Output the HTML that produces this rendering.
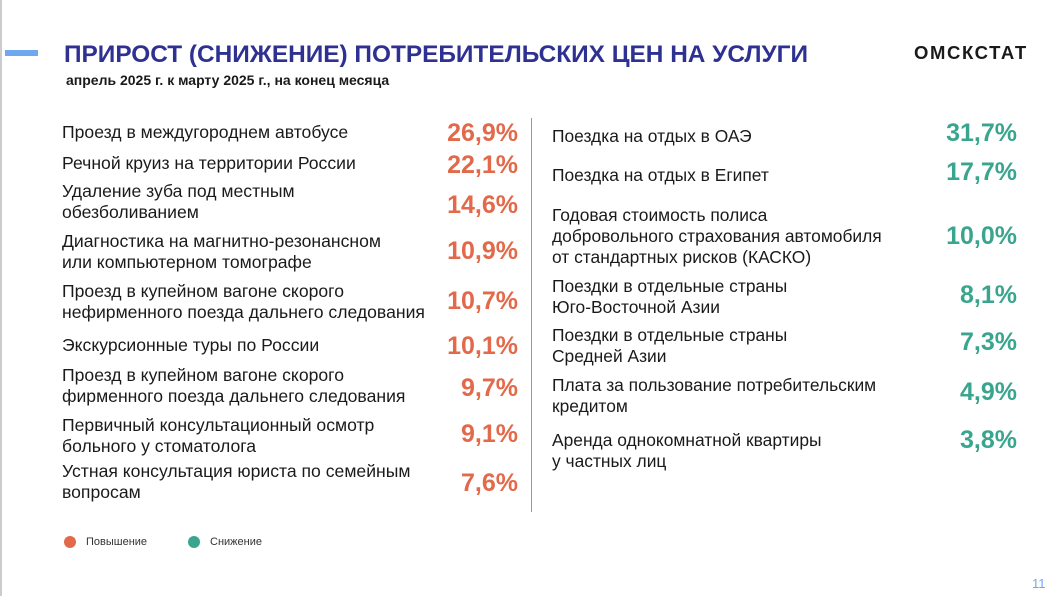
<!DOCTYPE html>
<html><head><meta charset="utf-8"><style>
body{margin:0;width:1060px;height:596px;background:#fff;position:relative;overflow:hidden;font-family:"Liberation Sans",sans-serif;}
.a{position:absolute;white-space:nowrap}
.l{font-size:17.6px;color:#1a1a1a;line-height:21px;left:62px}
.r{font-size:17.4px;color:#1a1a1a;line-height:21px;left:552px}
.v{font-size:25px;font-weight:bold;color:#e2694a;right:542px;line-height:30px}
.w{font-size:25px;font-weight:bold;color:#3aa58f;right:43px;line-height:30px}
</style></head><body>
<div class="a" style="left:0;top:0;width:2px;height:596px;background:#ccc"></div>
<div class="a" style="left:5px;top:50px;width:33px;height:6px;background:#6fa8ef"></div>
<div class="a" style="left:64px;top:41px;font-size:24.4px;font-weight:bold;color:#2e3192">ПРИРОСТ (СНИЖЕНИЕ) ПОТРЕБИТЕЛЬСКИХ ЦЕН НА УСЛУГИ</div>
<div class="a" style="left:66px;top:72px;font-size:14px;font-weight:bold;color:#1a1a1a">апрель 2025 г. к марту 2025 г., на конец месяца</div>
<div class="a" style="left:914px;top:42px;font-size:18.5px;font-weight:bold;color:#1a1a1a;letter-spacing:1.6px">ОМСКСТАТ</div>
<div class="a" style="left:531px;top:118px;width:1px;height:394px;background:#999"></div>

<div class="a l" style="top:122px">Проезд в междугороднем автобусе</div>
<div class="a l" style="top:153px">Речной круиз на территории России</div>
<div class="a l" style="top:181px">Удаление зуба под местным<br>обезболиванием</div>
<div class="a l" style="top:231px">Диагностика на магнитно-резонансном<br>или компьютерном томографе</div>
<div class="a l" style="top:281px">Проезд в купейном вагоне скорого<br>нефирменного поезда дальнего следования</div>
<div class="a l" style="top:335px">Экскурсионные туры по России</div>
<div class="a l" style="top:365px">Проезд в купейном вагоне скорого<br>фирменного поезда дальнего следования</div>
<div class="a l" style="top:415px">Первичный консультационный осмотр<br>больного у стоматолога</div>
<div class="a l" style="top:461px">Устная консультация юриста по семейным<br>вопросам</div>

<div class="a v" style="top:118px">26,9%</div>
<div class="a v" style="top:150px">22,1%</div>
<div class="a v" style="top:190px">14,6%</div>
<div class="a v" style="top:236px">10,9%</div>
<div class="a v" style="top:286px">10,7%</div>
<div class="a v" style="top:331px">10,1%</div>
<div class="a v" style="top:373px">9,7%</div>
<div class="a v" style="top:419px">9,1%</div>
<div class="a v" style="top:468px">7,6%</div>

<div class="a r" style="top:126px">Поездка на отдых в ОАЭ</div>
<div class="a r" style="top:165px">Поездка на отдых в Египет</div>
<div class="a r" style="top:205px">Годовая стоимость полиса<br>добровольного страхования автомобиля<br>от стандартных рисков (КАСКО)</div>
<div class="a r" style="top:276px">Поездки в отдельные страны<br>Юго-Восточной Азии</div>
<div class="a r" style="top:325px">Поездки в отдельные страны<br>Средней Азии</div>
<div class="a r" style="top:375px">Плата за пользование потребительским<br>кредитом</div>
<div class="a r" style="top:430px">Аренда однокомнатной квартиры<br>у частных лиц</div>

<div class="a w" style="top:118px">31,7%</div>
<div class="a w" style="top:157px">17,7%</div>
<div class="a w" style="top:221px">10,0%</div>
<div class="a w" style="top:280px">8,1%</div>
<div class="a w" style="top:327px">7,3%</div>
<div class="a w" style="top:377px">4,9%</div>
<div class="a w" style="top:425px">3,8%</div>

<div class="a" style="left:64px;top:536px;width:12px;height:12px;border-radius:50%;background:#e2694a"></div>
<div class="a" style="left:86px;top:536px;font-size:11px;color:#333">Повышение</div>
<div class="a" style="left:188px;top:536px;width:12px;height:12px;border-radius:50%;background:#3aa58f"></div>
<div class="a" style="left:210px;top:536px;font-size:11px;color:#333">Снижение</div>
<div class="a" style="left:1032px;top:576px;font-size:13px;color:#6fa8ef">11</div>
</body></html>
